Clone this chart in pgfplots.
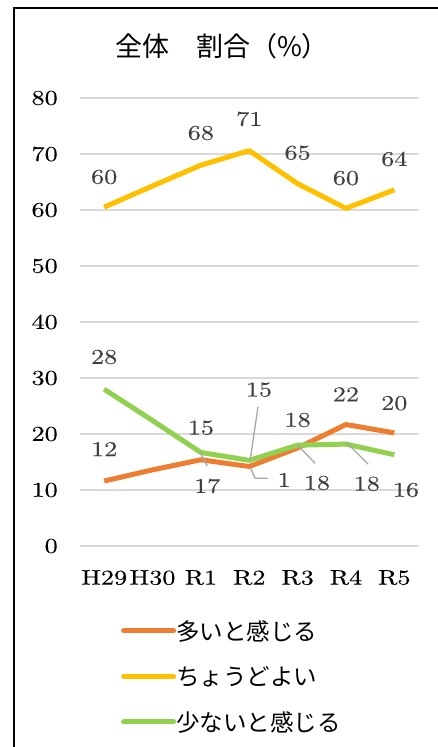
\documentclass[border=0pt]{standalone}
\usepackage{fontspec}
\setmainfont{lmroman10-regular.otf}[FakeStretch=1.25,FakeBold=0.25]
\newfontfamily\jp{Noto Sans CJK JP}
\usepackage{pgfplots}
\pgfplotsset{compat=1.18}
\definecolor{cOr}{HTML}{ED7D31}
\definecolor{cYe}{HTML}{FFC000}
\definecolor{cGr}{HTML}{92D050}
\definecolor{cGrid}{HTML}{D9D9D9}
\definecolor{cLab}{HTML}{404040}
\definecolor{cLead}{HTML}{A6A6A6}
\newcommand\nf{\fontsize{21}{21}\selectfont}
\begin{document}
\begin{tikzpicture}
\useasboundingbox (0,0) rectangle (438pt,-747pt);
\draw[line width=2pt] (14pt,-747pt) -- (14pt,-8pt) -- (440pt,-8pt);
\node[font=\jp\fontsize{27}{27}\selectfont] at (222pt,-46pt) {全体　割合（\%）};
\begin{axis}[
  at={(80pt,-546pt)}, anchor=south west,
  scale only axis, width=338.5pt, height=448pt,
  xmin=-0.5, xmax=6.5, ymin=0, ymax=80,
  ytick={0,10,...,80}, xtick={0,...,6},
  xticklabels={H29,H30,R1,R2,R3,R4,R5},
  axis line style={draw=none}, major tick length=0pt,
  ymajorgrids, grid style={draw=cGrid, line width=1.2pt},
  /pgf/number format/assume math mode=true,
  tick label style={font=\nf, text=black},
  yticklabel style={anchor=east, inner sep=0pt, xshift=-22pt},
  xticklabel style={anchor=north, inner sep=0pt, yshift=-24pt},
  clip=false,
  legend style={at={(axis description cs:0.121,-0.165)}, anchor=north west,
    draw=none, fill=none, inner sep=0pt, row sep=24.5pt,
    nodes={inner sep=0pt, font=\jp\fontsize{23.5}{23.5}\selectfont}},
  legend cell align=left,
  legend image code/.code={\draw[#1, line cap=round] (2.5pt,0pt) -- (52.5pt,0pt);},
]
\addplot[cOr, line width=5pt, line join=round] coordinates {(0,11.6)(1,13.6)(2,15.4)(3,14.2)(4,17.5)(5,21.7)(6,20.2)};
\addlegendentry{ 多いと感じる}
\addplot[cYe, line width=5pt, line join=round] coordinates {(0,60.5)(1,64.3)(2,68.0)(3,70.6)(4,64.7)(5,60.3)(6,63.6)};
\addlegendentry{ ちょうどよい}
\addplot[cGr, line width=5pt, line join=round] coordinates {(0,28.0)(1,22.4)(2,16.7)(3,15.3)(4,18.0)(5,18.2)(6,16.3)};
\addlegendentry{ 少ないと感じる}
% leader lines
\draw[cLead, line width=1.3pt] (axis cs:1.98,16.8) -- (axis cs:2.13,14.3);
\draw[cLead, line width=1.3pt] (axis cs:3.18,24.8) -- (axis cs:3.02,15.4);
\draw[cLead, line width=1.3pt] (axis cs:3.02,14.1) -- (axis cs:3.12,12.1) -- (axis cs:3.38,12.1);
\draw[cLead, line width=1.3pt] (axis cs:4.0,18.0) -- (axis cs:4.36,14.8);
\draw[cLead, line width=1.3pt] (axis cs:5.02,18.4) -- (axis cs:5.46,14.6);
% labels
\begin{scope}[every node/.style={font=\nf, text=cLab, inner sep=0pt}]
\node at (axis cs:0,65.9) {60};
\node at (axis cs:2,73.75) {68};
\node at (axis cs:3,76.25) {71};
\node at (axis cs:4,70.2) {65};
\node at (axis cs:5,65.7) {60};
\node at (axis cs:6,69.1) {64};
\node at (axis cs:0,17.3) {12};
\node at (axis cs:2,21.1) {15};
\node at (axis cs:4,22.5) {18};
\node at (axis cs:5,27.1) {22};
\node at (axis cs:6,25.5) {20};
\node at (axis cs:3.72,11.8) {1};
\node at (axis cs:0,33.75) {28};
\node at (axis cs:2.13,10.7) {17};
\node at (axis cs:3.2,27.9) {15};
\node at (axis cs:4.4,11.25) {18};
\node at (axis cs:5.43,11.1) {18};
\node at (axis cs:6.24,10.0) {16};
\end{scope}
\end{axis}
\end{tikzpicture}
\end{document}
